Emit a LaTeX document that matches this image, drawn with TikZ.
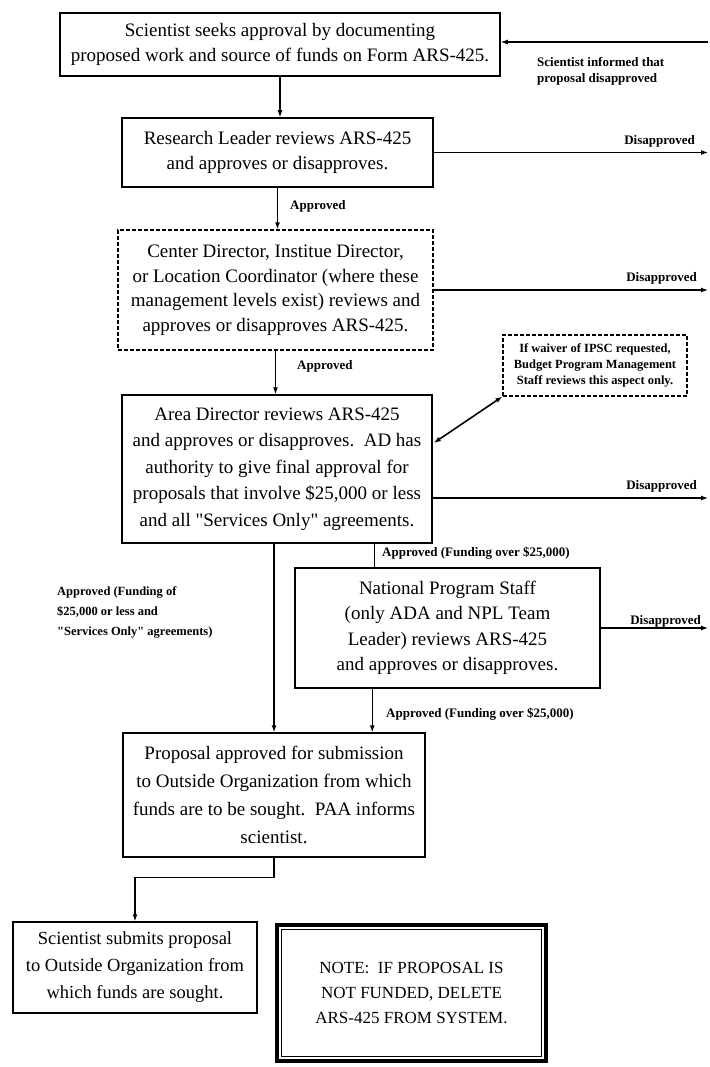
\documentclass[tikz,border=0pt]{standalone}
\usepackage{fontspec}
\setmainfont{Liberation Serif}
\usetikzlibrary{arrows.meta,calc}
\begin{document}
\begin{tikzpicture}[x=1pt,y=-1pt,
  box/.style={draw, line width=1.5pt, align=center, inner sep=0pt, font=\fontsize{19}{25}\selectfont},
  dbox/.style={box, line width=1.3pt, dash pattern=on 4pt off 2pt},
  lbl/.style={font=\fontsize{13}{16}\selectfont\bfseries, inner sep=0pt},
  arr/.style={line width=1.2pt, -{Latex[length=7pt,width=5pt]}},
  darr/.style={line width=1.6pt, {Latex[length=7pt,width=5pt]}-{Latex[length=7pt,width=5pt]}},
  ln/.style={line width=1.2pt}]
\useasboundingbox (0,0) rectangle (709,1067);
\fill[white] (0,0) rectangle (709,1067);
\coordinate (edge) at (708,0);

% boxes
\node[box, minimum width=440, minimum height=63] (b1) at (280,44.5)
  {Scientist seeks approval by documenting\\proposed work and source of funds on Form ARS-425.};
\node[box, minimum width=311, minimum height=69] (b2) at (277.5,152.5)
  {Research Leader reviews ARS-425\\and approves or disapproves.};
\node[dbox, minimum width=315, minimum height=120, font=\fontsize{19}{24.5}\selectfont] (b3) at (275.5,290)
  {Center Director, Institue Director,\\or Location Coordinator (where these\\management levels exist) reviews and\\approves or disapproves ARS-425.};
\node[box, minimum width=310, minimum height=148, font=\fontsize{19}{26.5}\selectfont] (b4) at (277,469)
  {Area Director reviews ARS-425\\and approves or disapproves.\ \ AD has\\authority to give final approval for\\proposals that involve \$25,000 or less\\and all \textquotedbl Services Only\textquotedbl\ agreements.};
\node[dbox, line width=1.1pt, minimum width=184, minimum height=61, font=\fontsize{12.5}{16}\selectfont\bfseries] (ipsc) at (595,365.5)
  {If waiver of IPSC requested,\\Budget Program Management\\Staff reviews this aspect only.};
\node[box, minimum width=305, minimum height=120, font=\fontsize{19}{25.5}\selectfont] (b5) at (447.5,628)
  {National Program Staff\\(only ADA and NPL Team\\Leader) reviews ARS-425\\and approves or disapproves.};
\node[box, minimum width=302, minimum height=124, font=\fontsize{19}{28}\selectfont] (b6) at (274,795)
  {Proposal approved for submission\\to Outside Organization from which\\funds are to be sought.\ \ PAA informs\\scientist.};
\node[box, minimum width=244, minimum height=91, font=\fontsize{18.5}{27}\selectfont] (b7) at (135,967.5)
  {Scientist submits proposal\\to Outside Organization from\\which funds are sought.};
\node[draw, line width=4pt, minimum width=269, minimum height=136, inner sep=0pt, align=center,
  font=\fontsize{17}{25}\selectfont] (note) at (411.5,993)
  {NOTE:\ \ IF PROPOSAL IS\\NOT FUNDED, DELETE\\ARS-425 FROM SYSTEM.};
\draw[line width=0.9pt] ($(note.south west)+(6.5,-6.5)$) rectangle ($(note.north east)+(-6.5,6.5)$);

% main flow
\draw[arr] (b1.south) -- (b1.south |- b2.north);
\draw[arr] (b2.south) -- (b2.south |- b3.north);
\draw[arr] (b3.south) -- (b3.south |- b4.north);
\coordinate (c1) at ($(b4.south)+(-3,0)$);
\draw[arr] (c1) -- (c1 |- b6.north);
\coordinate (c2) at ($(b4.south west)+(253,0)$);
\draw[ln] (c2) -- (c2 |- b5.north);
\coordinate (c3) at ($(b5.south west)+(78,0)$);
\draw[arr] (c3) -- (c3 |- b6.north);
\draw[arr] (b6.south) -- ++(0,20) -| (b7.north);
\draw[darr] ($(b4.east)+(1,-26)$) -- (ipsc.south west);

% disapproved branches
\coordinate (t1) at (708,42);
\draw[arr] (t1) -- (t1 -| b1.east);
\draw[arr] (b2.east) -- (b2.east -| edge);
\draw[arr] (b3.east) -- (b3.east -| edge);
\coordinate (d4) at (708,498);
\draw[arr] (d4 -| b4.east) -- (d4);
\draw[arr] (b5.east) -- (b5.east -| edge);

% labels
\node[lbl, anchor=west, align=left] (linf) at (537,71) {Scientist informed that\\proposal disapproved};
\node[lbl, anchor=east] (l2) at (695,141) {Disapproved};
\node[lbl, anchor=east] (l3) at (697,278) {Disapproved};
\node[lbl, anchor=east] (l4) at (697,486) {Disapproved};
\node[lbl, anchor=east] (l5) at (701,621) {Disapproved};
\node[lbl, anchor=west] (a1) at (290,206) {Approved};
\node[lbl, anchor=west] (a2) at (297,366) {Approved};
\node[lbl, anchor=west] (a3) at (382,553) {Approved (Funding over \$25,000)};
\node[lbl, anchor=west] (a4) at (386,714) {Approved (Funding over \$25,000)};
\node[lbl, anchor=west, align=left, font=\fontsize{12.5}{20}\selectfont\bfseries] (a5) at (57,612)
  {Approved (Funding of\\\$25,000 or less and\\\textquotedbl Services Only\textquotedbl\ agreements)};
\end{tikzpicture}
\end{document}
